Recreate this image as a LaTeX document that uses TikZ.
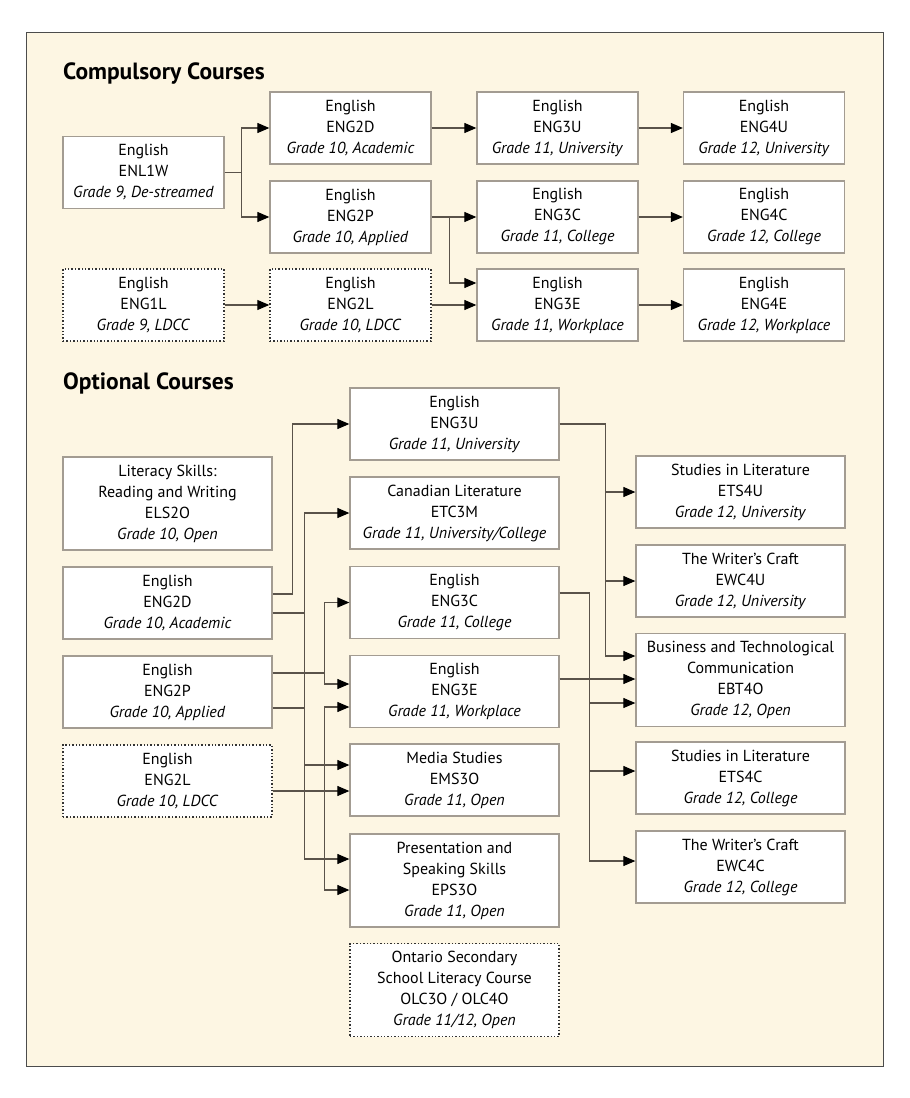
\documentclass[tikz,border=0pt]{standalone}
\usepackage{fontspec}
\setmainfont{PT Sans}
\usetikzlibrary{arrows.meta,calc}
\definecolor{bg}{HTML}{FDF6E3}
\definecolor{boxline}{HTML}{A39C92}
\definecolor{conn}{HTML}{5A534A}
\tikzset{
  cbox/.style={draw=boxline, fill=white, line width=1.3pt, minimum width=161pt, minimum height=72pt,
    inner sep=0pt, align=center, font=\fontsize{16}{21}\selectfont},
  wbox/.style={cbox, minimum width=209pt},
  tallbox/.style={wbox, minimum height=93pt},
  dotbox/.style={draw=black!80, dash pattern=on 1.4pt off 2pt, line width=1.4pt},
  arr/.style={draw=conn, line width=1.1pt, -{Triangle[length=12pt,width=10pt,color=black,fill=black]}},
  ln/.style={draw=conn, line width=1.1pt},
  heading/.style={anchor=west, inner sep=0pt, font=\bfseries\fontsize{23.5}{28}\selectfont}
}
\begin{document}
\begin{tikzpicture}[x=1pt,y=-1pt]
\useasboundingbox (0,0) rectangle (910,1098);
\draw[draw=black!70, fill=bg, line width=1pt] (26,32) rectangle (883,1066);

\node[heading] (hcomp) at (63,74) {Compulsory Courses};
\node[heading] (hopt) at (63,383) {Optional Courses};

% Compulsory
\node[cbox] (enl1w) at (143.5,172.5) {English\\ENL1W\\\textit{Grade 9, De-streamed}};
\node[cbox,dotbox] (eng1l) at (143.5,305) {English\\ENG1L\\\textit{Grade 9, LDCC}};
\node[cbox] (eng2d) at (350.5,128) {English\\ENG2D\\\textit{Grade 10, Academic}};
\node[cbox] (eng2p) at (350.5,217) {English\\ENG2P\\\textit{Grade 10, Applied}};
\node[cbox,dotbox] (eng2l) at (350.5,305) {English\\ENG2L\\\textit{Grade 10, LDCC}};
\node[cbox] (eng3u) at (557.5,128) {English\\ENG3U\\\textit{Grade 11, University}};
\node[cbox] (eng3c) at (557.5,217) {English\\ENG3C\\\textit{Grade 11, College}};
\node[cbox] (eng3e) at (557.5,305) {English\\ENG3E\\\textit{Grade 11, Workplace}};
\node[cbox] (eng4u) at (764,128) {English\\ENG4U\\\textit{Grade 12, University}};
\node[cbox] (eng4c) at (764,217) {English\\ENG4C\\\textit{Grade 12, College}};
\node[cbox] (eng4e) at (764,305) {English\\ENG4E\\\textit{Grade 12, Workplace}};

\draw[arr] (enl1w.east) -- ++(17,0) |- (eng2d.west);
\draw[arr] (enl1w.east) -- ++(17,0) |- (eng2p.west);
\draw[arr] (eng2d) -- (eng3u);
\draw[arr] (eng3u) -- (eng4u);
\draw[arr] (eng2p) -- (eng3c);
\draw[arr] ($(eng2p.east)+(18,0)$) |- ($(eng3e.west)+(0,-22)$);
\draw[arr] (eng3c) -- (eng4c);
\draw[arr] (eng1l) -- (eng2l);
\draw[arr] (eng2l) -- (eng3e);
\draw[arr] (eng3e) -- (eng4e);

% Optional
\node[tallbox] (els2o) at (167.5,503.5) {Literacy Skills:\\Reading and Writing\\ELS2O\\\textit{Grade 10, Open}};
\node[wbox] (oeng2d) at (167.5,603) {English\\ENG2D\\\textit{Grade 10, Academic}};
\node[wbox] (oeng2p) at (167.5,692) {English\\ENG2P\\\textit{Grade 10, Applied}};
\node[wbox,dotbox] (oeng2l) at (167.5,781) {English\\ENG2L\\\textit{Grade 10, LDCC}};

\node[wbox] (oeng3u) at (454.5,424) {English\\ENG3U\\\textit{Grade 11, University}};
\node[wbox] (etc3m) at (454.5,513) {Canadian Literature\\ETC3M\\\textit{Grade 11, University/College}};
\node[wbox] (oeng3c) at (454.5,602.5) {English\\ENG3C\\\textit{Grade 11, College}};
\node[wbox] (oeng3e) at (454.5,691.5) {English\\ENG3E\\\textit{Grade 11, Workplace}};
\node[wbox] (ems3o) at (454.5,780) {Media Studies\\EMS3O\\\textit{Grade 11, Open}};
\node[tallbox] (eps3o) at (454.5,880.5) {Presentation and\\Speaking Skills\\EPS3O\\\textit{Grade 11, Open}};
\node[tallbox,dotbox] (olc) at (454.5,990) {Ontario Secondary\\School Literacy Course\\OLC3O / OLC4O\\\textit{Grade 11/12, Open}};

\node[wbox] (ets4u) at (740.5,492) {Studies in Literature\\ETS4U\\\textit{Grade 12, University}};
\node[wbox] (ewc4u) at (740.5,581) {The Writer’s Craft\\EWC4U\\\textit{Grade 12, University}};
\node[tallbox] (ebt4o) at (740.5,680) {Business and Technological\\Communication\\EBT4O\\\textit{Grade 12, Open}};
\node[wbox] (ets4c) at (740.5,778) {Studies in Literature\\ETS4C\\\textit{Grade 12, College}};
\node[wbox] (ewc4c) at (740.5,867) {The Writer’s Craft\\EWC4C\\\textit{Grade 12, College}};

% left-side connectors
\draw[arr] ($(oeng2d.east)+(0,-9)$) -- ++(20,0) |- (oeng3u.west);
\coordinate (t1) at ($(oeng2d.east)+(32,10)$);
\draw[arr] ($(oeng2d.east)+(0,10)$) -- (t1) |- (etc3m.west);
\draw[ln] ($(oeng2p.east)+(0,16)$) -- ++(32,0);
\draw[arr] (t1) |- ($(ems3o.west)+(0,-15)$);
\draw[arr] (t1) |- ($(eps3o.west)+(0,-21.5)$);
\coordinate (t2) at ($(oeng2p.east)+(52,-19)$);
\draw[arr] ($(oeng2p.east)+(0,-19)$) -- (t2) |- (oeng3c.west);
\draw[arr] (t2) |- ($(oeng3e.west)+(0,-7.5)$);
\coordinate (l2) at ($(oeng2l.east)+(0,10)$);
\draw[arr] (l2) -- (l2 -| ems3o.west);
\coordinate (t3) at ($(oeng2l.east)+(52,10)$);
\draw[arr] (t3) |- ($(oeng3e.west)+(0,15.5)$);
\draw[arr] (t3) |- ($(eps3o.west)+(0,9.5)$);

% right-side connectors
\coordinate (r1) at ($(oeng3u.east)+(46,0)$);
\draw[arr] (oeng3u.east) -- (r1) |- (ets4u.west);
\draw[arr] (r1) |- (ewc4u.west);
\draw[arr] (r1) |- ($(ebt4o.west)+(0,-24)$);
\coordinate (r2) at ($(oeng3c.east)+(30,-9.5)$);
\draw[arr] ($(oeng3c.east)+(0,-9.5)$) -- (r2) |- ($(ebt4o.west)+(0,23)$);
\draw[arr] (r2) |- ($(ets4c.west)+(0,-7)$);
\draw[arr] (r2) |- ($(ewc4c.west)+(0,-6)$);
\coordinate (e1) at ($(oeng3e.east)+(0,-12.5)$);
\draw[arr] (e1) -- (e1 -| ebt4o.west);
\end{tikzpicture}
\end{document}
